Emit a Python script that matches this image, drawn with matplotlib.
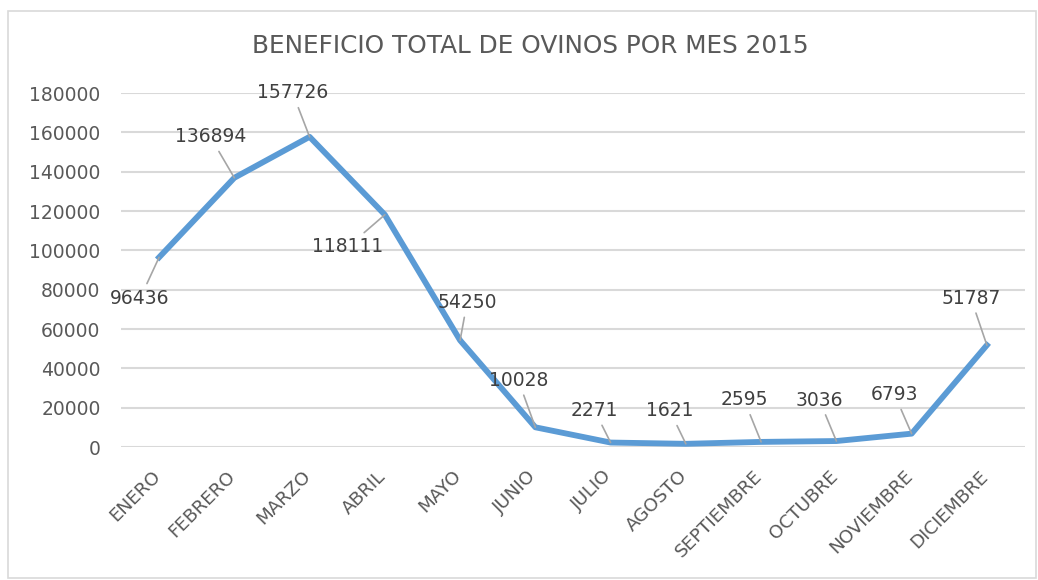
import matplotlib.pyplot as plt
from matplotlib.patches import Rectangle

months = ['ENERO', 'FEBRERO', 'MARZO', 'ABRIL', 'MAYO', 'JUNIO', 'JULIO',
          'AGOSTO', 'SEPTIEMBRE', 'OCTUBRE', 'NOVIEMBRE', 'DICIEMBRE']
beneficio = [96436, 136894, 157726, 118111, 54250, 10028, 2271,
             1621, 2595, 3036, 6793, 51787]
y_ticks = list(range(0, 180001, 20000))

# label offsets in pixels (dx, dy)
label_offsets = [(-19, -41), (-24, 41), (-17, 44), (-37, -32), (7, 38), (-17, 47),
                 (-16, 32), (-16, 33), (-17, 42), (-17, 41), (-17, 39), (-16, 47)]

fig = plt.figure(figsize=(10.38, 5.80), dpi=100)
ax = fig.add_axes([0.117, 0.2293, 0.870, 0.6103])

x = list(range(len(months)))
ax.plot(x, beneficio, color='#5B9BD5', lw=4.2, solid_joinstyle='round', zorder=3)

for xi, v, (dx, dy) in zip(x, beneficio, label_offsets):
    ax.annotate(str(v), (xi, v), xytext=(dx, dy), textcoords='offset pixels',
                ha='center', va='center', fontsize=13.5, color='#404040',
                arrowprops=dict(arrowstyle='-', color='#A6A6A6', lw=1.2,
                                shrinkA=2, shrinkB=0), zorder=4)

ax.set_xlim(-0.5, len(months) - 0.5)
ax.set_ylim(0, 180000)
ax.set_yticks(y_ticks)
ax.set_yticklabels([str(t) for t in y_ticks], fontsize=13.5, color='#595959')
ax.set_xticks(x)
ax.set_xticklabels([])
# month labels drawn by hand so they can sit a bit left of the tick
for xi, m in zip(x, months):
    ax.annotate(m, (xi, 0), xycoords=('data', 'axes fraction'), xytext=(-8, -20),
                textcoords='offset pixels', rotation=45, ha='right', va='top',
                rotation_mode='anchor', fontsize=13.2, color='#595959')
ax.tick_params(length=0, axis='y', pad=15)
ax.tick_params(length=0, axis='x')
ax.grid(axis='y', color='#D9D9D9', lw=1.5)
ax.set_axisbelow(True)
for s in ax.spines.values():
    s.set_visible(False)

fig.text(0.511, 0.921, 'BENEFICIO TOTAL DE OVINOS POR MES 2015', ha='center', va='center',
         fontsize=17.8, color='#595959')

fig.patches.append(Rectangle((8 / 1038, 2 / 580), 1028 / 1038, 567 / 580,
                             transform=fig.transFigure, fill=False,
                             edgecolor='#D9D9D9', lw=1.2))

fig.savefig('out.png', dpi=100)
